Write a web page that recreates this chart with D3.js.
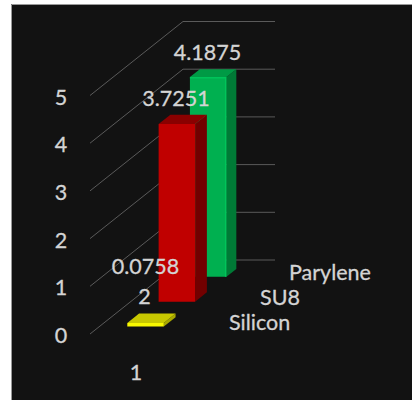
<!DOCTYPE html>
<html>
<head>
<meta charset="utf-8">
<script src="https://cdn.jsdelivr.net/npm/d3@7/dist/d3.min.js"></script>
<style>
  html, body { margin: 0; padding: 0; background: #fff; }
  svg { display: block; }
  text { font-family: Lato, "Open Sans", sans-serif; font-size: 21.5px; fill: #d4d4d4; stroke: #d4d4d4; stroke-width: 0.3px; }
</style>
</head>
<body>
<svg id="chart" width="412" height="400"></svg>
<script>
const materials = ["Silicon", "SU8", "Parylene"];
const thickness = [0.0758, 3.7251, 4.1875];
const valueTicks = [0, 1, 2, 3, 4, 5];
const barColors = ["#f8f800", "#c00000", "#00b050"];
const topColors = ["#c8c800", "#8a0000", "#009a45"];
const sideColors = ["#a8a800", "#720000", "#007a36"];
const barDepths = [0.38, 0.38, 0.32];

const svg = d3.select("#chart");

// panel
svg.append("rect").attr("x", 11).attr("y", 4).attr("width", 401).attr("height", 396).attr("fill", "#121212");
svg.append("path").attr("d", "M11.5,400V4.5H412").attr("fill", "none").attr("stroke", "#999");

// oblique projection: value goes up, depth goes back and to the right
const y = d3.scaleLinear().domain([0, 5]).range([334, 95.5]);
const depthX = d3.scaleLinear().domain([0, 3]).range([0, 93]);
const depthY = d3.scaleLinear().domain([0, 3]).range([0, -74]);
const wallEnd = 92;
const floorLeft = 90;

// position of a bar's front-left corner along the category and depth axes
const catOffset = 28;
const barWidth = 36.5;
const depthPos = d3.scalePoint().domain(materials).range([0.3, 2.32]);

const px = (c, d) => floorLeft + c + depthX(d);
const py = (v, d) => y(v) + depthY(d);

// gridlines along the side wall and back wall
const grid = d3.line().x(d => d[0]).y(d => d[1]);
svg.append("g").selectAll("path")
  .data(valueTicks)
  .join("path")
  .attr("fill", "none")
  .attr("stroke", "#5a5a5a")
  .attr("stroke-width", 1)
  .attr("d", v => grid([
    [px(0, 0), py(v, 0)],
    [px(0, 3), py(v, 3)],
    [px(wallEnd, 3), py(v, 3)]
  ]));

// value axis labels
svg.append("g").selectAll("text")
  .data(valueTicks)
  .join("text")
  .attr("x", 61)
  .attr("y", v => y(v))
  .attr("dy", "0.42em")
  .attr("text-anchor", "middle")
  .text(v => v);

const poly = pts => grid(pts) + "Z";

// bars back to front
const bars = svg.append("g");
d3.range(materials.length).reverse().forEach(i => {
  const d0 = depthPos(materials[i]);
  const d1 = d0 + barDepths[i];
  const c0 = catOffset;
  const c1 = catOffset + barWidth;
  const v = thickness[i];
  bars.append("path").attr("fill", sideColors[i]).attr("d", poly([
    [px(c1, d0), py(0, d0)], [px(c1, d1), py(0, d1)], [px(c1, d1), py(v, d1)], [px(c1, d0), py(v, d0)]
  ]));
  bars.append("path").attr("fill", topColors[i]).attr("d", poly([
    [px(c0, d0), py(v, d0)], [px(c1, d0), py(v, d0)], [px(c1, d1), py(v, d1)], [px(c0, d1), py(v, d1)]
  ]));
  bars.append("path").attr("fill", barColors[i]).attr("d", poly([
    [px(c0, d0), py(0, d0)], [px(c1, d0), py(0, d0)], [px(c1, d0), py(v, d0)], [px(c0, d0), py(v, d0)]
  ]));
  // the tallest bar has a soft lighter edge on its front face
  if (i === 2) {
    bars.append("path")
      .attr("fill", "none")
      .attr("stroke", "#00c45a")
      .attr("stroke-width", 1.5)
      .attr("d", grid([[px(c0, d0), py(v, d0) + 0.75], [px(c1, d0) - 0.75, py(v, d0) + 0.75], [px(c1, d0) - 0.75, py(0, d0)]]));
  }
});

// value labels, placed above each bar
const labelX = [145.5, 176, 207.5];
const labelY = [274, 106, 60];
svg.append("g").selectAll("text")
  .data(thickness)
  .join("text")
  .attr("x", (d, i) => labelX[i])
  .attr("y", (d, i) => labelY[i])
  .attr("text-anchor", "middle")
  .text(d => d);

// category axis along the front
svg.append("text").attr("x", 136).attr("y", 380).attr("text-anchor", "middle").text(1);
svg.append("text").attr("x", 144.5).attr("y", 304).attr("text-anchor", "middle").text(2);

// series names along the depth axis
const seriesX = [229, 260, 289];
const seriesY = [330, 305, 280];
svg.append("g").selectAll("text")
  .data(materials)
  .join("text")
  .attr("x", (d, i) => seriesX[i])
  .attr("y", (d, i) => seriesY[i])
  .text(d => d);
</script>
</body>
</html>
